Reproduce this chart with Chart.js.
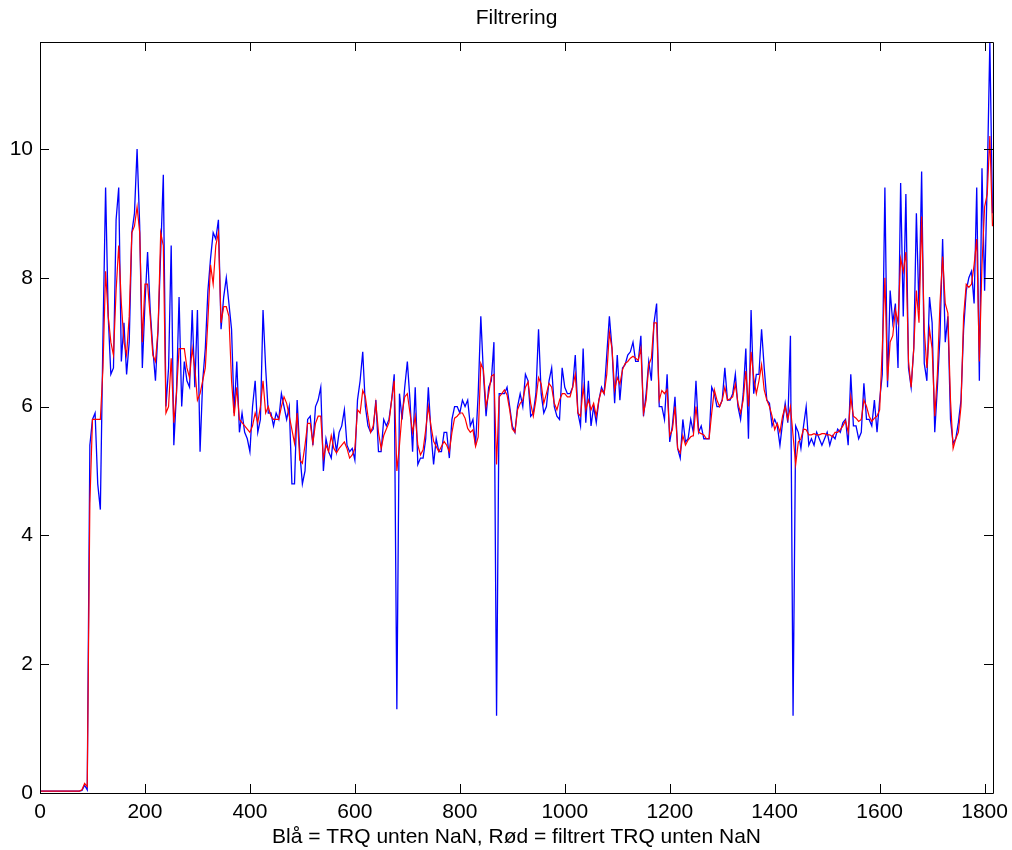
<!DOCTYPE html>
<html>
<head>
<meta charset="utf-8">
<title>Filtrering</title>
<script src="https://cdn.jsdelivr.net/npm/chart.js@4.4.0/dist/chart.umd.min.js"></script>
<style>
  html, body { margin: 0; padding: 0; background: #fff; }
  #wrap { width: 1012px; height: 850px; }
</style>
</head>
<body>
<div id="wrap"><canvas id="myChart"></canvas></div>
<script>
// samples every 5 units
const xStep = 5;
const xMax = 1816;
const xTicks = [0, 200, 400, 600, 800, 1000, 1200, 1400, 1600, 1800];
const yTicks = [0, 2, 4, 6, 8, 10];
const yMax = 11.66;

// blå = TRQ unten NaN
const blueTrq = [
  0.03, 0.03, 0.03, 0.03, 0.03, 0.03, 0.03, 0.03, 0.03, 0.03, 0.03, 0.03, 0.03, 0.03, 0.03, 0.03, 0.04, 0.12, 0.05, 5.4,
  5.8, 5.9, 4.8, 4.4, 7.1, 9.4, 7.4, 6.5, 6.6, 8.9, 9.4, 6.7, 7.3, 6.5, 7.0, 8.7, 9.0, 10.0, 8.8, 6.6,
  7.6, 8.4, 7.5, 6.9, 6.4, 7.2, 8.4, 9.6, 6.0, 6.6, 8.5, 5.4, 6.2, 7.7, 6.0, 6.7, 6.4, 6.3, 7.5, 6.3,
  7.5, 5.3, 6.4, 6.9, 7.8, 8.3, 8.7, 8.6, 8.9, 7.2, 7.7, 8.0, 7.6, 7.2, 5.9, 6.7, 5.6, 5.9, 5.6, 5.5,
  5.3, 6.0, 6.4, 5.6, 5.8, 7.5, 6.6, 5.9, 5.9, 5.7, 5.9, 5.8, 6.2, 6.0, 5.8, 6.0, 4.8, 4.8, 6.1, 5.3,
  4.8, 5.0, 5.8, 5.85, 5.4, 6.0, 6.1, 6.3, 5.0, 5.5, 5.3, 5.2, 5.6, 5.3, 5.6, 5.7, 5.95, 5.4, 5.3, 5.35,
  5.17, 6.1, 6.4, 6.85, 6.0, 5.7, 5.6, 5.65, 6.1, 5.3, 5.3, 5.8, 5.7, 5.8, 6.1, 6.5, 1.3, 6.2, 5.8, 6.3,
  6.7, 6.1, 5.3, 6.3, 5.1, 5.2, 5.2, 5.5, 6.3, 5.6, 5.1, 5.5, 5.3, 5.3, 5.6, 5.6, 5.2, 5.8, 6.0, 6.0,
  5.9, 6.1, 6.0, 6.1, 5.7, 5.8, 5.4, 6.2, 7.4, 6.5, 5.85, 6.3, 6.4, 7.0, 1.2, 6.2, 6.2, 6.2, 6.3, 6.0,
  5.7, 5.6, 6.0, 6.2, 6.0, 6.5, 6.4, 5.85, 5.9, 6.2, 7.2, 6.2, 5.9, 6.0, 6.4, 6.6, 6.0, 5.85, 5.8, 6.6,
  6.3, 6.2, 6.2, 6.3, 6.8, 5.9, 5.7, 6.9, 5.75, 6.4, 5.7, 6.0, 5.75, 6.1, 6.3, 6.2, 6.8, 7.4, 6.9, 6.05,
  6.8, 6.1, 6.6, 6.65, 6.8, 6.85, 7.0, 6.7, 6.7, 7.1, 5.85, 6.2, 6.7, 6.4, 7.3, 7.6, 6.0, 6.0, 5.8, 6.5,
  5.45, 5.7, 6.15, 5.35, 5.2, 5.8, 5.45, 5.5, 5.8, 5.6, 6.4, 5.6, 5.7, 5.5, 5.5, 5.5, 6.3, 6.2, 6.0, 6.0,
  6.1, 6.6, 6.1, 6.1, 6.2, 6.5, 6.0, 5.8, 6.2, 6.9, 5.5, 7.5, 6.2, 6.5, 6.5, 7.2, 6.6, 6.1, 6.05, 5.7,
  5.8, 5.7, 5.4, 5.75, 6.05, 5.75, 7.1, 1.2, 5.7, 5.6, 5.35, 5.7, 6.0, 5.4, 5.5, 5.4, 5.6, 5.5, 5.4, 5.5,
  5.6, 5.4, 5.55, 5.5, 5.65, 5.6, 5.75, 5.8, 5.4, 6.5, 5.7, 5.7, 5.5, 5.6, 6.36, 5.8, 5.8, 5.7, 6.1, 5.6,
  6.1, 6.5, 9.4, 6.3, 7.8, 7.3, 7.6, 6.6, 9.47, 7.4, 9.3, 6.6, 6.3, 6.9, 9.0, 7.5, 9.65, 6.67, 6.4, 7.7,
  7.3, 5.6, 6.3, 7.1, 8.6, 7.0, 7.4, 5.8, 5.43, 5.5, 5.75, 6.1, 7.2, 7.8, 8.0, 8.1, 7.6, 9.4, 6.4, 9.7,
  7.8, 9.5, 11.66, 9.0
];

// rød = filtrert TRQ unten NaN
const redTrq = [
  0.03, 0.03, 0.03, 0.03, 0.03, 0.03, 0.03, 0.03, 0.03, 0.03, 0.03, 0.03, 0.03, 0.03, 0.03, 0.03, 0.05, 0.15, 0.1, 4.5,
  5.8, 5.8, 5.8, 5.8, 6.6, 8.1, 7.4, 7.0, 6.8, 7.8, 8.5, 7.6, 7.0, 6.8, 7.4, 8.7, 8.8, 9.1, 8.7, 7.0,
  7.9, 7.9, 7.4, 6.8, 6.7, 7.2, 8.7, 8.5, 5.9, 6.0, 6.75, 5.75, 6.2, 6.9, 6.9, 6.9, 6.6, 6.45, 6.9, 6.6,
  6.1, 6.2, 6.4, 6.6, 7.35, 8.2, 7.9, 8.5, 8.7, 7.3, 7.55, 7.55, 7.4, 6.4, 5.85, 6.3, 5.8, 5.75, 5.7, 5.65,
  5.6, 5.7, 5.9, 5.75, 6.0, 6.4, 5.9, 6.0, 5.85, 5.8, 5.8, 5.8, 6.0, 6.15, 6.05, 5.85, 5.64, 5.43, 5.9, 5.17,
  5.12, 5.4, 5.74, 5.74, 5.43, 5.74, 5.85, 5.85, 5.2, 5.4, 5.3, 5.55, 5.35, 5.28, 5.35, 5.4, 5.45, 5.35, 5.2, 5.25,
  5.35, 5.95, 5.9, 6.25, 6.15, 5.85, 5.6, 5.7, 6.05, 5.6, 5.35, 5.55, 5.65, 5.75, 6.1, 6.4, 5.0, 5.4, 5.9, 6.15,
  6.2, 5.9, 5.6, 5.85, 5.4, 5.25, 5.33, 5.64, 6.0, 5.7, 5.46, 5.38, 5.3, 5.38, 5.46, 5.4, 5.3, 5.6, 5.82, 5.85,
  5.9, 5.9, 5.82, 5.66, 5.6, 5.64, 5.38, 5.53, 6.67, 6.57, 6.0, 6.2, 6.47, 6.5, 5.1, 6.15, 6.2, 6.26, 6.18, 5.95,
  5.65, 5.6, 5.95, 6.05, 6.1, 6.3, 6.38, 6.05, 5.85, 6.1, 6.45, 6.35, 6.05, 6.2, 6.36, 6.3, 6.05, 5.95, 6.1, 6.2,
  6.2, 6.15, 6.15, 6.3, 6.5, 5.9, 5.85, 6.3, 5.95, 6.1, 5.95, 6.05, 5.85, 6.1, 6.26, 6.2, 6.5, 7.15, 6.9, 6.26,
  6.45, 6.35, 6.57, 6.67, 6.7, 6.75, 6.78, 6.75, 6.72, 6.9, 5.9, 6.1, 6.65, 6.75, 7.3, 7.3, 6.1, 6.25, 6.2, 6.26,
  5.55, 5.64, 6.0, 5.35, 5.28, 5.55, 5.4, 5.48, 5.53, 5.55, 6.0, 5.6, 5.58, 5.56, 5.5, 5.5, 5.9, 6.26, 6.1, 6.0,
  6.1, 6.3, 6.1, 6.12, 6.15, 6.35, 6.05, 5.9, 6.1, 6.55, 6.0, 6.85, 6.45, 6.2, 6.4, 6.65, 6.26, 6.1, 6.0, 5.85,
  5.64, 5.74, 5.6, 5.85, 6.0, 5.8, 6.0, 5.55, 5.1, 5.45, 5.5, 5.65, 5.64, 5.56, 5.56, 5.58, 5.56, 5.56, 5.58, 5.58,
  5.56, 5.56, 5.53, 5.6, 5.6, 5.64, 5.7, 5.78, 5.6, 6.15, 5.85, 5.82, 5.77, 5.8, 6.1, 6.0, 5.85, 5.77, 5.82, 5.85,
  5.95, 6.9, 8.0, 6.4, 7.0, 7.1, 7.5, 7.3, 8.3, 8.1, 8.4, 6.7, 6.3, 6.9, 7.8, 7.3, 8.95, 7.2, 6.6, 7.2,
  6.9, 5.85, 6.5, 7.6, 8.33, 7.6, 7.45, 6.1, 5.35, 5.5, 5.6, 6.0, 7.4, 7.9, 7.85, 7.9, 8.2, 8.6, 6.7, 8.2,
  9.1, 9.3, 10.2, 8.8
];

const titleText = 'Filtrering';
const fontFam = "'Liberation Sans', Arial, Helvetica, sans-serif";

function toPoints(vals) {
  return vals.map(function(v, i) { return { x: i * xStep, y: v }; });
}

// MATLAB-aktig boks med ticks innover, og tittel midt over plottet
const boxPlugin = {
  id: 'boxPlugin',
  afterDatasetsDraw: function(chart) {
    const ctx = chart.ctx;
    const a = chart.chartArea;
    const xs = chart.scales.x;
    const ys = chart.scales.y;
    const tl = 9;
    ctx.save();
    ctx.strokeStyle = '#000';
    ctx.lineWidth = 1;
    ctx.beginPath();
    ctx.rect(a.left + 0.5, a.top + 0.5, a.right - a.left, a.bottom - a.top);
    xTicks.forEach(function(t) {
      const px = Math.round(xs.getPixelForValue(t)) + 0.5;
      ctx.moveTo(px, a.bottom);
      ctx.lineTo(px, a.bottom - tl);
      ctx.moveTo(px, a.top);
      ctx.lineTo(px, a.top + tl);
    });
    yTicks.forEach(function(t) {
      const py = Math.round(ys.getPixelForValue(t)) + 0.5;
      ctx.moveTo(a.left, py);
      ctx.lineTo(a.left + tl, py);
      ctx.moveTo(a.right, py);
      ctx.lineTo(a.right - tl, py);
    });
    ctx.stroke();

    ctx.fillStyle = '#000';
    ctx.font = '21px ' + fontFam;
    ctx.textAlign = 'center';
    ctx.textBaseline = 'middle';
    ctx.fillText(titleText, (a.left + a.right) / 2, 18);
    ctx.restore();
  }
};

const config = {
  type: 'line',
  data: {
    datasets: [
      {
        label: 'filtrert TRQ unten NaN',
        data: toPoints(redTrq),
        borderColor: 'rgb(255, 0, 0)',
        borderWidth: 1.2,
        pointRadius: 0,
        tension: 0,
        fill: false
      },
      {
        label: 'TRQ unten NaN',
        data: toPoints(blueTrq),
        borderColor: 'rgb(0, 0, 255)',
        borderWidth: 1.3,
        pointRadius: 0,
        tension: 0,
        fill: false
      }
    ]
  },
  options: {
    responsive: true,
    maintainAspectRatio: false,
    animation: false,
    events: [],
    layout: { padding: { left: 0, right: 19, top: 42, bottom: 0 } },
    plugins: {
      legend: { display: false },
      tooltip: { enabled: false },
      title: { display: false }
    },
    scales: {
      x: {
        type: 'linear',
        min: 0,
        max: xMax,
        grid: { display: false, drawTicks: false },
        border: { display: false },
        afterBuildTicks: function(scale) {
          scale.ticks = xTicks.map(function(v) { return { value: v }; });
        },
        afterFit: function(scale) {
          scale.height = 57;
          scale.paddingLeft = 0;
          scale.paddingRight = 0;
        },
        ticks: {
          color: '#000',
          padding: 7,
          maxRotation: 0,
          autoSkip: false,
          font: { family: fontFam, size: 21 },
          callback: function(v) { return String(v); }
        },
        title: {
          display: true,
          text: 'Blå = TRQ unten NaN, Rød = filtrert TRQ unten NaN',
          color: '#000',
          font: { family: fontFam, size: 21 },
          padding: { top: 0, bottom: 0 }
        }
      },
      y: {
        type: 'linear',
        min: 0,
        max: yMax,
        grid: { display: false, drawTicks: false },
        border: { display: false },
        afterBuildTicks: function(scale) {
          scale.ticks = yTicks.map(function(v) { return { value: v }; });
        },
        afterFit: function(scale) {
          scale.width = 40;
          scale.paddingTop = 0;
          scale.paddingBottom = 0;
        },
        ticks: {
          color: '#000',
          padding: 7,
          font: { family: fontFam, size: 21 },
          callback: function(v) { return String(v); }
        }
      }
    }
  },
  plugins: [boxPlugin]
};

var myChart = new Chart(document.getElementById('myChart'), config);
</script>
</body>
</html>
